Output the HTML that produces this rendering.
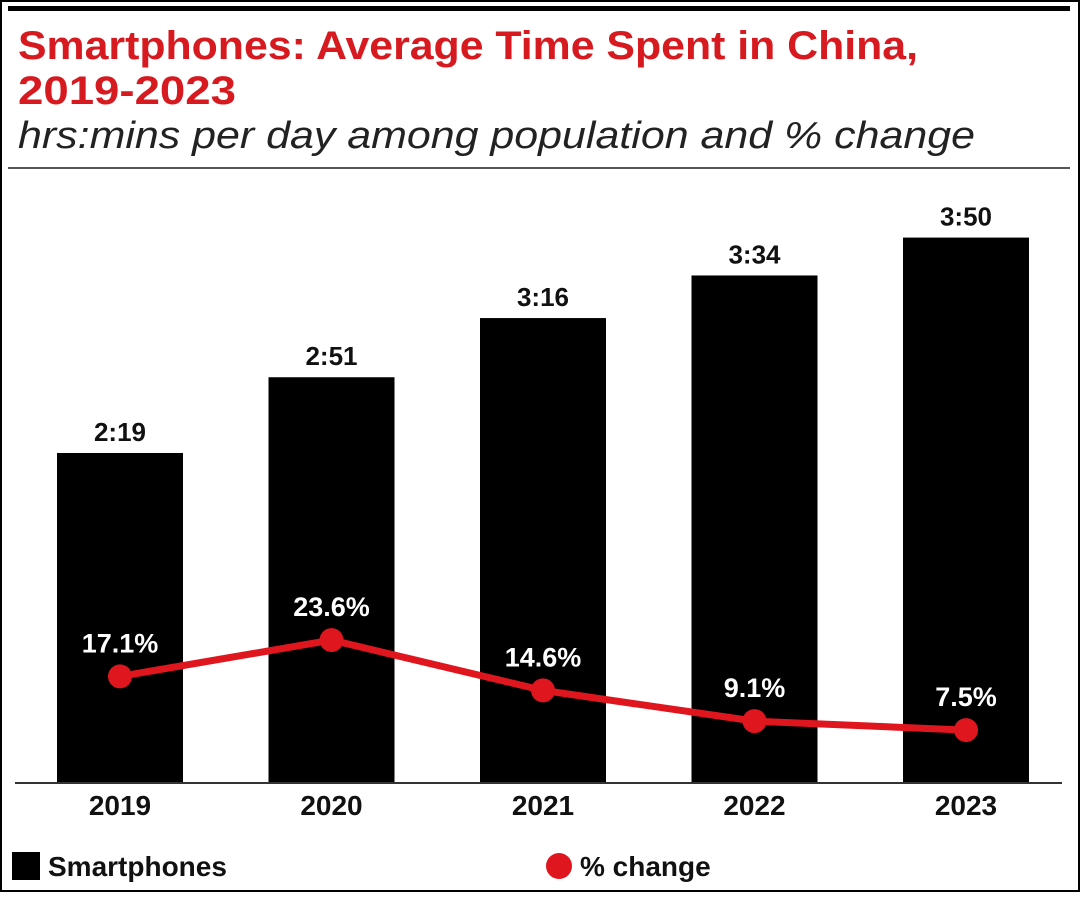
<!DOCTYPE html>
<html><head><meta charset="utf-8"><style>
html,body{margin:0;padding:0;background:#fff;}
body{width:1080px;height:892px;position:relative;overflow:hidden;font-family:"Liberation Sans",sans-serif;}
</style></head><body>
<svg width="1080" height="892" xmlns="http://www.w3.org/2000/svg" id="chart">
<rect x="0" y="0" width="1080" height="892" fill="#fff"/>
<rect x="0" y="0" width="1080" height="892" fill="none" stroke="#000" stroke-width="4"/>
<rect x="8" y="6" width="1062" height="5" fill="#000"/>
<text x="18" y="59" font-size="40" font-weight="bold" fill="#d71920" textLength="900" lengthAdjust="spacingAndGlyphs">Smartphones: Average Time Spent in China,</text>
<text x="18" y="104" font-size="40" font-weight="bold" fill="#d71920" textLength="218" lengthAdjust="spacingAndGlyphs">2019-2023</text>
<text x="18" y="148" font-size="38" font-style="italic" fill="#222" textLength="957" lengthAdjust="spacingAndGlyphs">hrs:mins per day among population and % change</text>
<rect x="8" y="167" width="1062" height="2" fill="#555"/>
<g id="bars"></g>
<line x1="15" y1="783" x2="1062" y2="783" stroke="#333" stroke-width="2"/>
<g id="line"></g>
<g id="xlabels"></g>
<rect x="12" y="852" width="28" height="28" fill="#000"/>
<text x="48" y="876" font-size="28" font-weight="bold" fill="#111">Smartphones</text>
<circle cx="559" cy="866" r="13" fill="#e0161e"/>
<text x="580" y="876" font-size="28" font-weight="bold" fill="#111">% change</text>
</svg>
<script>
const years=["2019","2020","2021","2022","2023"];
const minutes=[139,171,196,214,230];
const timeLabels=["2:19","2:51","3:16","3:34","3:50"];
const pctChange=[17.1,23.6,14.6,9.1,7.5];
const pctLabels=["17.1%","23.6%","14.6%","9.1%","7.5%"];
const NS="http://www.w3.org/2000/svg";
const base=782, pxPerMin=2.367, x0=120, step=211.5, barW=126, pct0=772, pxPerPct=5.59;
const xs=i=>x0+i*step, yb=v=>base-v*pxPerMin, yp=v=>pct0-v*pxPerPct;
function mk(tag,attrs,parent){const e=document.createElementNS(NS,tag);for(const k in attrs)e.setAttribute(k,attrs[k]);document.getElementById(parent).appendChild(e);return e;}
years.forEach((y,i)=>{
 const b=mk("rect",{x:xs(i)-barW/2,y:yb(minutes[i]),width:barW,height:base-yb(minutes[i]),fill:"#000"},"bars");
 
 
 const t=mk("text",{x:xs(i),y:yb(minutes[i])-12,"text-anchor":"middle","font-size":"26","font-weight":"bold",fill:"#111"},"bars");
 t.textContent=timeLabels[i];
 
 
 const xl=mk("text",{x:xs(i),y:815,"text-anchor":"middle","font-size":"28","font-weight":"bold",fill:"#111"},"xlabels");
 xl.textContent=y;
 
 
});
const pl=mk("polyline",{points:pctChange.map((v,i)=>xs(i)+","+yp(v)).join(" "),fill:"none",stroke:"#e0161e","stroke-width":"7","stroke-linejoin":"round"},"line");


pctChange.forEach((v,i)=>{
 const c=mk("circle",{cx:xs(i),cy:yp(v),r:12,fill:"#e0161e"},"line");
 
 
 const t=mk("text",{x:xs(i),y:yp(v)-24,"text-anchor":"middle","font-size":"27","font-weight":"bold",fill:"#fff"},"line");
 t.textContent=pctLabels[i];
 
 
});
</script>
</body></html>
